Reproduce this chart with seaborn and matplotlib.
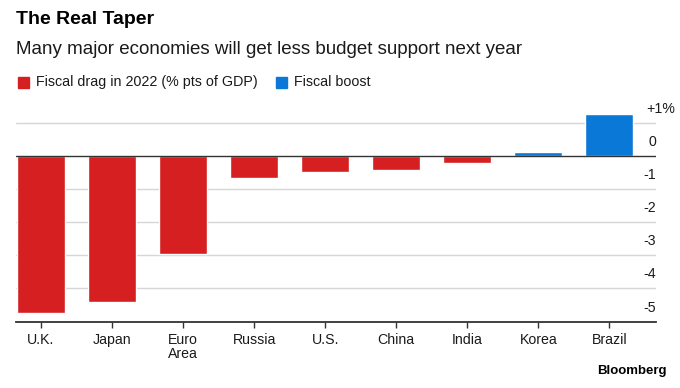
import matplotlib
matplotlib.use("Agg")
import matplotlib.pyplot as plt
import matplotlib.transforms as mtransforms
from matplotlib.patches import Rectangle
import seaborn as sns
import pandas as pd

# ---- data ----
countries = ["U.K.", "Japan", "Euro\nArea", "Russia", "U.S.", "China", "India", "Korea", "Brazil"]
values = [-4.73, -4.42, -2.97, -0.68, -0.5, -0.44, -0.21, 0.1, 1.25]
kind = ["Fiscal drag", "Fiscal drag", "Fiscal drag", "Fiscal drag", "Fiscal drag",
        "Fiscal drag", "Fiscal drag", "Fiscal boost", "Fiscal boost"]
ytick_values = [1, 0, -1, -2, -3, -4, -5]
ytick_labels = ["+1%", "0", "-1", "-2", "-3", "-4", "-5"]
legend_labels = ["Fiscal drag in 2022 (% pts of GDP)", "Fiscal boost"]

RED = "#d51f20"
BLUE = "#0a78d6"
DARK = "#1a1a1a"
GRID = "#d6d6d6"

sns.set_theme(style="white")
plt.rcParams["font.family"] = ["Liberation Sans", "DejaVu Sans"]

W, H = 680, 388
fig = plt.figure(figsize=(W / 100, H / 100), dpi=100)

ax_left, ax_right = 16 / W, 656 / W
ax_bottom_px, ax_top_px = 321.5, 112.0
ax = fig.add_axes([ax_left, 1 - ax_bottom_px / H, ax_right - ax_left, (ax_bottom_px - ax_top_px) / H])

df = pd.DataFrame({"country": countries, "value": values, "kind": kind})
sns.barplot(data=df, x="country", y="value", hue="kind",
            palette={"Fiscal drag": RED, "Fiscal boost": BLUE},
            dodge=False, width=0.68, saturation=1, legend=False, ax=ax, zorder=3)

ax.set_ylim(-5, 1.32)
ax.set_xlim(-0.352, 8.657)

# grid lines
for v in ytick_values:
    if v == 0:
        ax.axhline(0, color="#333333", lw=1.0, zorder=4)
    elif v == -5:
        continue
    else:
        ax.axhline(v, color=GRID, lw=1.0, zorder=1)

for s in ["top", "right", "left"]:
    ax.spines[s].set_visible(False)
ax.spines["bottom"].set_color("#333333")
ax.spines["bottom"].set_linewidth(1.3)
ax.set_yticks([])
ax.set_xlabel("")
ax.set_ylabel("")
ax.tick_params(axis="x", bottom=True, length=4, width=1.0, color="#333333",
               pad=4, labelsize=10.2, labelcolor=DARK)
for lbl in ax.get_xticklabels():
    lbl.set_linespacing(1.05)

# y labels on the right, above each line
trans = mtransforms.blended_transform_factory(ax.transAxes, ax.transData)
trans_off = mtransforms.offset_copy(trans, fig=fig, x=0, y=14, units="dots")
for v, t in zip(ytick_values, ytick_labels):
    if t.endswith("%"):
        ax.text(1.0 - 9.5 / (656 - 16), v, t, transform=trans_off, ha="left", va="center",
                fontsize=10.2, color=DARK)
    else:
        ax.text(1.0, v, t, transform=trans_off, ha="right", va="center",
                fontsize=10.2, color=DARK)

# title, subtitle
fig.text(16 / W, 1 - 19 / H, "The Real Taper", fontsize=14, fontweight="bold",
         color="#000000", ha="left", va="center")
fig.text(16 / W, 1 - 49 / H, "Many major economies will get less budget support next year",
         fontsize=13.5, color=DARK, ha="left", va="center")

# legend
ly = 82
sq = 11
fig.patches.append(Rectangle((18 / W, 1 - (ly + sq / 2) / H), sq / W, sq / H,
                             transform=fig.transFigure, color=RED))
fig.text(36.5 / W, 1 - ly / H, legend_labels[0], fontsize=10.3, color=DARK, ha="left", va="center")
fig.patches.append(Rectangle((276 / W, 1 - (ly + sq / 2) / H), sq / W, sq / H,
                             transform=fig.transFigure, color=BLUE))
fig.text(294.5 / W, 1 - ly / H, legend_labels[1], fontsize=10.3, color=DARK, ha="left", va="center")

# source
fig.text(667 / W, 1 - 371 / H, "Bloomberg", fontsize=9.5, fontweight="bold",
         color="#000000", ha="right", va="center")

fig.savefig("out.png", dpi=100, facecolor="white")
